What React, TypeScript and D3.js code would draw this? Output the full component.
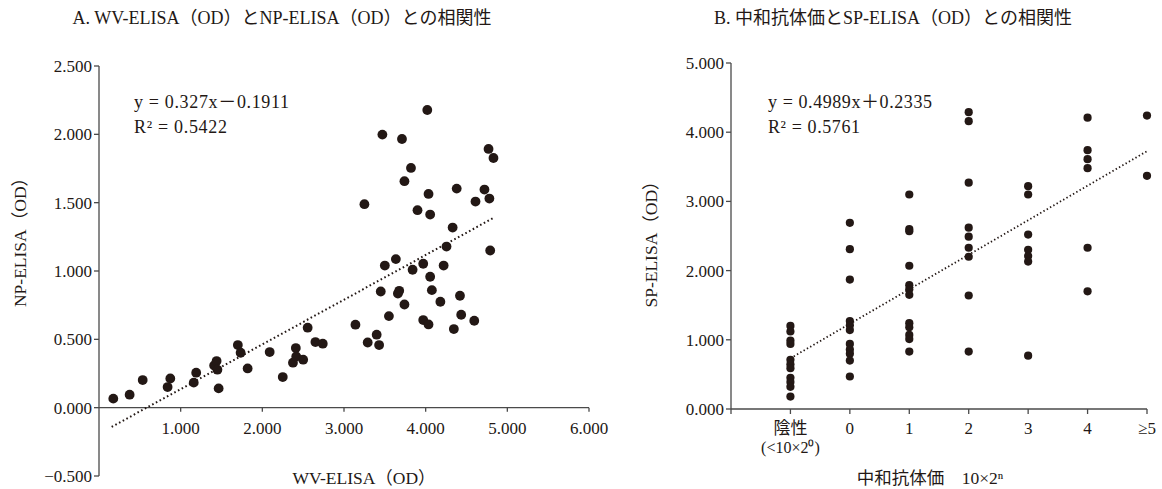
import React from "react";
import * as d3 from "d3";

// ---------- Chart A data: WV-ELISA (OD) vs NP-ELISA (OD) ----------
const wvElisa = [
  0.175, 0.375, 0.535, 0.84, 0.873, 1.16, 1.19, 1.41, 1.44, 1.45, 1.465, 1.7, 1.734, 1.82, 2.09, 2.25,
  2.375, 2.41, 2.415, 2.5, 2.555, 2.65, 2.74, 3.14, 3.25, 3.29, 3.4, 3.43, 3.45, 3.47, 3.5, 3.55,
  3.635, 3.66, 3.676, 3.71, 3.74, 3.74, 3.82, 3.84, 3.9, 3.97, 3.97, 4.02, 4.035, 4.035, 4.055, 4.055,
  4.076, 4.18, 4.22, 4.255, 4.33, 4.345, 4.38, 4.42, 4.435, 4.595, 4.61, 4.72, 4.77, 4.78, 4.79, 4.83,
];
const npElisa = [
  0.066, 0.095, 0.202, 0.151, 0.214, 0.183, 0.256, 0.309, 0.341, 0.278, 0.141, 0.458, 0.402, 0.287, 0.407, 0.224,
  0.329, 0.436, 0.375, 0.351, 0.585, 0.48, 0.468, 0.607, 1.489, 0.477, 0.534, 0.458, 0.85, 1.998, 1.04, 0.67,
  1.087, 0.835, 0.855, 1.966, 1.657, 0.755, 1.754, 1.009, 1.445, 1.053, 0.641, 2.178, 1.564, 0.609, 1.413, 0.958,
  0.86, 0.775, 1.04, 1.179, 1.318, 0.575, 1.603, 0.819, 0.68, 0.636, 1.508, 1.596, 1.893, 1.53, 1.15, 1.827,
];
const slopeA = 0.327;
const interceptA = -0.1911;
const yTicksA = [-0.5, 0, 0.5, 1, 1.5, 2, 2.5];
const xTicksA = [1, 2, 3, 4, 5, 6];

// ---------- Chart B data: neutralizing titer vs SP-ELISA (OD) ----------
const titerCategories = ["陰性", "0", "1", "2", "3", "4", "≥5"];
const spNegative = [1.2, 1.12, 0.99, 0.94, 0.71, 0.645, 0.59, 0.45, 0.39, 0.32, 0.18];
const sp0 = [2.69, 2.31, 1.87, 1.27, 1.21, 1.14, 0.94, 0.86, 0.8, 0.7, 0.47];
const sp1 = [3.1, 2.6, 2.57, 2.07, 1.79, 1.73, 1.65, 1.24, 1.18, 1.07, 1.01, 0.83];
const sp2 = [4.29, 4.16, 3.27, 2.62, 2.49, 2.33, 2.2, 1.64, 0.83];
const sp3 = [3.22, 3.1, 2.52, 2.3, 2.21, 2.13, 0.77];
const sp4 = [4.21, 3.74, 3.61, 3.48, 2.33, 1.7];
const sp5 = [4.24, 3.37];
const spByCategory = [spNegative, sp0, sp1, sp2, sp3, sp4, sp5];
const slopeB = 0.4989;
const interceptB = 0.2335;
const yTicksB = [0, 1, 2, 3, 4, 5];

const FONT = "'Liberation Serif', 'Times New Roman', 'Noto Sans CJK JP', serif";
const INK = "#231815";
const AXIS = "#4a4a4a";
const fmt = d3.format(".3f");
const TICK_FS = 17;

export default function App() {
  // Scales A
  const xA = d3.scaleLinear().domain([0, 6]).range([99, 589]);
  const yA = d3.scaleLinear().domain([-0.5, 2.5]).range([476, 66]);
  const [xMinA, xMaxA] = d3.extent(wvElisa) as [number, number];
  const trendA = d3.line<number>()
    .x((d) => xA(d))
    .y((d) => yA(slopeA * d + interceptA))([xMinA - 0.02, xMaxA]);

  // Scales B
  const xB = d3.scaleLinear().domain([-1, 6]).range([731, 1147]);
  const yB = d3.scaleLinear().domain([0, 5]).range([409, 63]);
  const trendB = d3.line<number>()
    .x((d) => xB(d))
    .y((d) => yB(slopeB * (d + 1) + interceptB))([0, titerCategories.length - 1]);

  const pointsB: { i: number; v: number }[] = [];
  spByCategory.forEach((arr, i) => arr.forEach((v) => pointsB.push({ i, v })));

  return (
    <svg
      width={1162}
      height={489}
      style={{ position: "absolute", left: 0, top: 0, background: "#fff" }}
      fontFamily={FONT}
      fill={INK}
    >
      <rect x={0} y={0} width={1162} height={489} fill="#fff" />
      {/* ================= Chart A ================= */}
      <text x={282} y={24} fontSize={18} textAnchor="middle">
        A. WV-ELISA（OD）とNP-ELISA（OD）との相関性
      </text>
      {/* y axis */}
      <line x1={xA(0)} x2={xA(0)} y1={yA(-0.5)} y2={yA(2.5)} stroke={AXIS} strokeWidth={1.3} />
      {yTicksA.map((t) => (
        <g key={"ya" + t}>
          <line x1={xA(0) - 5} x2={xA(0)} y1={yA(t)} y2={yA(t)} stroke={AXIS} strokeWidth={1.3} />
          <text x={xA(0) - 7} y={yA(t)} dy="0.35em" fontSize={TICK_FS} textAnchor="end">
            {fmt(t)}
          </text>
        </g>
      ))}
      {/* x axis at y = 0 */}
      <line x1={xA(0)} x2={xA(6)} y1={yA(0)} y2={yA(0)} stroke={AXIS} strokeWidth={1.3} />
      {xTicksA.map((t) => (
        <g key={"xa" + t}>
          <line x1={xA(t)} x2={xA(t)} y1={yA(0)} y2={yA(0) + 4} stroke={AXIS} strokeWidth={1.3} />
          <text x={xA(t)} y={yA(0) + 26} fontSize={TICK_FS} textAnchor="middle">
            {fmt(t)}
          </text>
        </g>
      ))}
      <text x={364} y={484} fontSize={17.5} textAnchor="middle">
        WV-ELISA（OD）
      </text>
      <text transform="translate(26,238) rotate(-90)" fontSize={17.5} textAnchor="middle">
        NP-ELISA（OD）
      </text>
      {/* trend line */}
      <path d={trendA ?? ""} fill="none" stroke={INK} strokeWidth={2} strokeDasharray="1.6 2.6" />
      {/* points */}
      {wvElisa.map((x, i) => (
        <circle key={"pa" + i} cx={xA(x)} cy={yA(npElisa[i])} r={4.9} fill={INK} />
      ))}
      <text x={134} y={108} fontSize={18} textLength={155} lengthAdjust="spacing">
        y = 0.327x－0.1911
      </text>
      <text x={134} y={133} fontSize={18} textLength={93} lengthAdjust="spacing">
        R² = 0.5422
      </text>

      {/* ================= Chart B ================= */}
      <text x={893} y={24} fontSize={18} textAnchor="middle">
        B. 中和抗体価とSP-ELISA（OD）との相関性
      </text>
      <line x1={xB(-1)} x2={xB(-1)} y1={yB(0) + 5} y2={yB(5)} stroke={AXIS} strokeWidth={1.3} />
      {yTicksB.map((t) => (
        <g key={"yb" + t}>
          <line x1={xB(-1) - 5} x2={xB(-1)} y1={yB(t)} y2={yB(t)} stroke={AXIS} strokeWidth={1.3} />
          <text x={xB(-1) - 7} y={yB(t)} dy="0.35em" fontSize={TICK_FS} textAnchor="end">
            {fmt(t)}
          </text>
        </g>
      ))}
      <line x1={xB(-1)} x2={xB(6)} y1={yB(0)} y2={yB(0)} stroke={AXIS} strokeWidth={1.3} />
      {titerCategories.map((c, i) => (
        <g key={"xb" + i}>
          <line x1={xB(i)} x2={xB(i)} y1={yB(0)} y2={yB(0) + 5} stroke={AXIS} strokeWidth={1.3} />
          <text x={xB(i)} y={yB(0) + 25} fontSize={TICK_FS} textAnchor="middle">
            {c}
          </text>
        </g>
      ))}
      <text x={xB(0)} y={yB(0) + 44} fontSize={16} textAnchor="middle">
        (&lt;10×2⁰)
      </text>
      <text x={930} y={484} fontSize={17.5} textAnchor="middle">
        中和抗体価　10×2ⁿ
      </text>
      <text transform="translate(657,240) rotate(-90)" fontSize={17.5} textAnchor="middle">
        SP-ELISA（OD）
      </text>
      <path d={trendB ?? ""} fill="none" stroke={INK} strokeWidth={1.8} strokeDasharray="1.4 2.4" />
      {pointsB.map((p, k) => (
        <circle key={"pb" + k} cx={xB(p.i)} cy={yB(p.v)} r={4.1} fill={INK} />
      ))}
      <text x={768} y={108} fontSize={18} textLength={164} lengthAdjust="spacing">
        y = 0.4989x＋0.2335
      </text>
      <text x={768} y={133} fontSize={18} textLength={92} lengthAdjust="spacing">
        R² = 0.5761
      </text>
    </svg>
  );
}
